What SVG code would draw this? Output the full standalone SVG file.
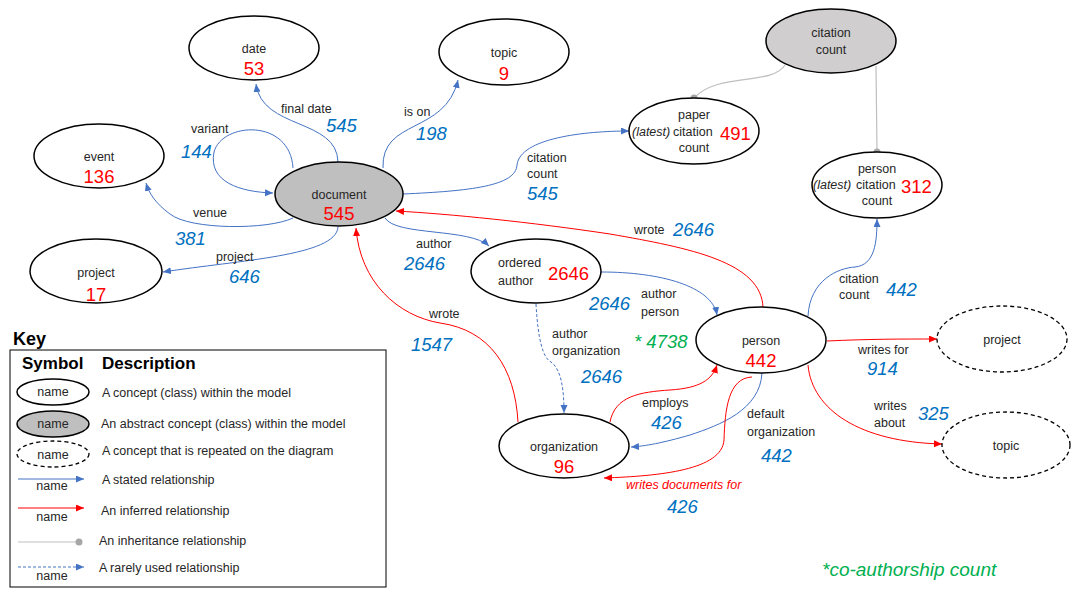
<svg xmlns="http://www.w3.org/2000/svg" width="1071" height="591" viewBox="0 0 1071 591">
  <style>
    text { font-family: "Liberation Sans", Arial, sans-serif; }
    .node { fill: #ffffff; stroke: #000000; stroke-width: 1.5; }
    .abstract { fill: #bfbfbf; stroke: #000000; stroke-width: 1.5; }
    .abstract2 { fill: #d0cece; stroke: #000000; stroke-width: 1.5; }
    .repeat { fill: #ffffff; stroke: #000000; stroke-width: 1.3; stroke-dasharray: 4 3; }
    .lbl { font-size: 12.5px; fill: #262626; }
    .cnt { font-size: 18.5px; fill: #ff0000; }
    .num { font-size: 18.5px; fill: #0070c0; font-style: italic; }
    .elbl { font-size: 12.5px; fill: #262626; }
    .stated { fill: none; stroke: #4472c4; stroke-width: 1; marker-end: url(#ab); }
    .rare { fill: none; stroke: #4472c4; stroke-width: 1; stroke-dasharray: 3 2; marker-end: url(#ab); }
    .inferred { fill: none; stroke: #ff0000; stroke-width: 1; marker-end: url(#ar); }
    .inherit { fill: none; stroke: #bfbfbf; stroke-width: 1.2; }
    .dot { fill: #a6a6a6; }
    .key { font-size: 12.5px; fill: #262626; }
    .keyhead { font-weight: bold; fill: #000000; }
  </style>
  <defs>
    <marker id="ab" markerUnits="userSpaceOnUse" markerWidth="9" markerHeight="8" refX="8" refY="3.5" orient="auto">
      <path d="M0,0 L8,3.5 L0,7 z" fill="#4472c4"/>
    </marker>
    <marker id="ar" markerUnits="userSpaceOnUse" markerWidth="9" markerHeight="8" refX="8" refY="3.5" orient="auto">
      <path d="M0,0 L8,3.5 L0,7 z" fill="#ff0000"/>
    </marker>
  </defs>

  <rect width="1071" height="591" fill="#ffffff"/>

  <!-- connectors -->
  <g id="connectors">
    <!-- document relations -->
    <path class="stated" d="M338,162 C337,118 262,130 256,84"/>
    <path class="stated" d="M293,168 C290,118 222,122 214,152 C208,182 240,192 273,193"/>
    <path class="stated" d="M293,218 C268,230 190,230 170,214 C155,203 149,193 146,183"/>
    <path class="stated" d="M338,227 C336,256 240,260 163,272"/>
    <path class="stated" d="M383,168 C381,118 445,135 458,80"/>
    <path class="stated" d="M403,194 C470,191 516,186 517,165 C520,138 585,131 629,131"/>
    <path class="stated" d="M385,218 C396,236 470,228 489,246"/>
    <!-- ordered author relations -->
    <path class="stated" d="M601,272 C660,272 712,286 717,315"/>
    <path class="rare" d="M536,304 C538,340 543,358 551,362 C562,370 564,392 564,413"/>
    <!-- person relations -->
    <path class="inferred" d="M763,308 C762,262 690,248 610,234 C530,222 450,214 396,211"/>
    <path class="inferred" d="M518,422 C515,368 490,330 440,323 C398,316 360,282 356,228"/>
    <path class="inferred" d="M610,422 C615,396 640,392 670,390 C700,388 712,380 717,365"/>
    <path class="stated" d="M762,373 C760,410 720,425 690,435 C662,443 646,446 631,447"/>
    <path class="inferred" d="M752,377 C728,378 725,410 724,440 C722,470 660,476 604,478"/>
    <path class="stated" d="M808,316 C810,280 838,268 855,267 C875,265 877,242 877,219"/>
    <path class="inferred" d="M827,341 C870,339 900,339 937,339"/>
    <path class="inferred" d="M808,365 C812,410 860,442 942,444"/>
    <!-- inheritance -->
    <path class="inherit" d="M785,65 C772,86 718,72 694,98"/>
    <circle class="dot" cx="694" cy="98" r="3.5"/>
    <path class="inherit" d="M876,66 L877,152"/>
    <circle class="dot" cx="877" cy="152" r="3.5"/>
  </g>

  <!-- connector labels -->
  <g id="connector-labels">
    <text class="elbl" x="281" y="113">final date</text>
    <text class="num" x="326" y="132">545</text>
    <text class="elbl" x="191" y="133">variant</text>
    <text class="num" x="181" y="158">144</text>
    <text class="elbl" x="193" y="217">venue</text>
    <text class="num" x="175" y="245">381</text>
    <text class="elbl" x="216" y="261">project</text>
    <text class="num" x="229" y="283">646</text>
    <text class="elbl" x="404" y="116">is on</text>
    <text class="num" x="416" y="140">198</text>
    <text class="elbl" x="527" y="162">citation</text>
    <text class="elbl" x="527" y="178">count</text>
    <text class="num" x="527" y="200">545</text>
    <text class="elbl" x="634" y="234">wrote</text>
    <text class="num" x="673" y="236">2646</text>
    <text class="elbl" x="416" y="248">author</text>
    <text class="num" x="404" y="270">2646</text>
    <text class="elbl" x="641" y="298">author</text>
    <text class="elbl" x="641" y="316">person</text>
    <text class="num" x="589" y="310">2646</text>
    <text x="634" y="348" font-size="18.5" font-style="italic" fill="#00b050">* 4738</text>
    <text class="elbl" x="429" y="318">wrote</text>
    <text class="num" x="411" y="351">1547</text>
    <text class="elbl" x="552" y="338">author</text>
    <text class="elbl" x="552" y="355">organization</text>
    <text class="num" x="581" y="383">2646</text>
    <text class="elbl" x="642" y="407">employs</text>
    <text class="num" x="651" y="429">426</text>
    <text class="elbl" x="747" y="418">default</text>
    <text class="elbl" x="747" y="436">organization</text>
    <text class="num" x="761" y="462">442</text>
    <text x="626" y="489" font-size="12.5" font-style="italic" fill="#ff0000">writes documents for</text>
    <text class="num" x="667" y="513">426</text>
    <text class="elbl" x="839" y="283">citation</text>
    <text class="elbl" x="839" y="299">count</text>
    <text class="num" x="886" y="296">442</text>
    <text class="elbl" x="858" y="354">writes for</text>
    <text class="num" x="867" y="375">914</text>
    <text class="elbl" x="874" y="410">writes</text>
    <text class="elbl" x="874" y="427">about</text>
    <text class="num" x="918" y="420">325</text>
  </g>

  <!-- nodes -->
  <g id="node-date">
    <ellipse class="node" cx="254" cy="48" rx="65" ry="32"/>
    <text class="lbl" x="254" y="53" text-anchor="middle">date</text>
    <text class="cnt" x="254" y="75" text-anchor="middle">53</text>
  </g>
  <g id="node-topic">
    <ellipse class="node" cx="504" cy="52" rx="65" ry="33"/>
    <text class="lbl" x="504" y="57" text-anchor="middle">topic</text>
    <text class="cnt" x="504" y="80" text-anchor="middle">9</text>
  </g>
  <g id="node-event">
    <ellipse class="node" cx="99" cy="156" rx="65" ry="32"/>
    <text class="lbl" x="99" y="161" text-anchor="middle">event</text>
    <text class="cnt" x="99" y="183" text-anchor="middle">136</text>
  </g>
  <g id="node-project">
    <ellipse class="node" cx="96" cy="271" rx="66" ry="32"/>
    <text class="lbl" x="96" y="277" text-anchor="middle">project</text>
    <text class="cnt" x="96" y="301" text-anchor="middle">17</text>
  </g>
  <g id="node-document">
    <ellipse class="abstract" cx="339" cy="194" rx="64" ry="32"/>
    <text class="lbl" x="339" y="199" text-anchor="middle">document</text>
    <text class="cnt" x="339" y="220" text-anchor="middle">545</text>
  </g>
  <g id="node-paper-citation-count">
    <ellipse class="node" cx="694" cy="131" rx="65" ry="33"/>
    <text class="lbl" x="694" y="119" text-anchor="middle">paper</text>
    <text class="lbl" x="632" y="136" font-style="italic">(latest)</text>
    <text class="lbl" x="673" y="136">citation</text>
    <text class="lbl" x="694" y="152" text-anchor="middle">count</text>
    <text class="cnt" x="720" y="140">491</text>
  </g>
  <g id="node-citation-count">
    <ellipse class="abstract2" cx="831" cy="41" rx="65" ry="32"/>
    <text class="lbl" x="831" y="37" text-anchor="middle">citation</text>
    <text class="lbl" x="831" y="54" text-anchor="middle">count</text>
  </g>
  <g id="node-person-citation-count">
    <ellipse class="node" cx="877" cy="185" rx="65" ry="33"/>
    <text class="lbl" x="877" y="173" text-anchor="middle">person</text>
    <text class="lbl" x="813" y="189" font-style="italic">(latest)</text>
    <text class="lbl" x="856" y="189">citation</text>
    <text class="lbl" x="877" y="205" text-anchor="middle">count</text>
    <text class="cnt" x="901" y="193">312</text>
  </g>
  <g id="node-ordered-author">
    <ellipse class="node" cx="536" cy="271" rx="65" ry="32"/>
    <text class="lbl" x="498" y="267">ordered</text>
    <text class="lbl" x="498" y="285">author</text>
    <text class="cnt" x="548" y="280">2646</text>
  </g>
  <g id="node-person">
    <ellipse class="node" cx="761" cy="340" rx="65" ry="33"/>
    <text class="lbl" x="761" y="345" text-anchor="middle">person</text>
    <text class="cnt" x="761" y="367" text-anchor="middle">442</text>
  </g>
  <g id="node-organization">
    <ellipse class="node" cx="564" cy="446" rx="65" ry="32"/>
    <text class="lbl" x="564" y="451" text-anchor="middle">organization</text>
    <text class="cnt" x="564" y="473" text-anchor="middle">96</text>
  </g>
  <g id="node-project-repeat">
    <ellipse class="repeat" cx="1002" cy="339" rx="65" ry="33"/>
    <text class="lbl" x="1002" y="344" text-anchor="middle">project</text>
  </g>
  <g id="node-topic-repeat">
    <ellipse class="repeat" cx="1006" cy="445" rx="64" ry="33"/>
    <text class="lbl" x="1006" y="450" text-anchor="middle">topic</text>
  </g>

  <text x="822" y="576" font-size="19" font-style="italic" fill="#00b050">*co-authorship count</text>

  <!-- key -->
  <g id="key">
    <text class="keyhead" x="13" y="345" font-size="18">Key</text>
    <rect x="10" y="350" width="376" height="237" fill="none" stroke="#000000" stroke-width="1"/>
    <text class="keyhead" x="22" y="369" font-size="17">Symbol</text>
    <text class="keyhead" x="102" y="369" font-size="17">Description</text>

    <ellipse class="node" cx="53" cy="392" rx="36" ry="13"/>
    <text class="key" x="53" y="396" text-anchor="middle">name</text>
    <text class="key" x="102" y="397">A concept (class) within the model</text>

    <ellipse class="abstract" cx="53" cy="424" rx="36" ry="13"/>
    <text class="key" x="53" y="428" text-anchor="middle">name</text>
    <text class="key" x="101" y="428">An abstract concept (class) within the model</text>

    <ellipse class="repeat" cx="53" cy="454" rx="36" ry="13"/>
    <text class="key" x="53" y="459" text-anchor="middle">name</text>
    <text class="key" x="102" y="455">A concept that is repeated on the diagram</text>

    <path class="stated" d="M18,479 L84,479"/>
    <text class="key" x="52" y="490" text-anchor="middle">name</text>
    <text class="key" x="102" y="484">A stated relationship</text>

    <path class="inferred" d="M18,508 L84,508"/>
    <text class="key" x="52" y="521" text-anchor="middle">name</text>
    <text class="key" x="101" y="515">An inferred relationship</text>

    <path class="inherit" d="M18,542 L78,542"/>
    <circle class="dot" cx="79" cy="542" r="3.5"/>
    <text class="key" x="99" y="545">An inheritance relationship</text>

    <path class="rare" d="M18,567 L84,567"/>
    <text class="key" x="52" y="580" text-anchor="middle">name</text>
    <text class="key" x="99" y="572">A rarely used relationship</text>
  </g>
</svg>
